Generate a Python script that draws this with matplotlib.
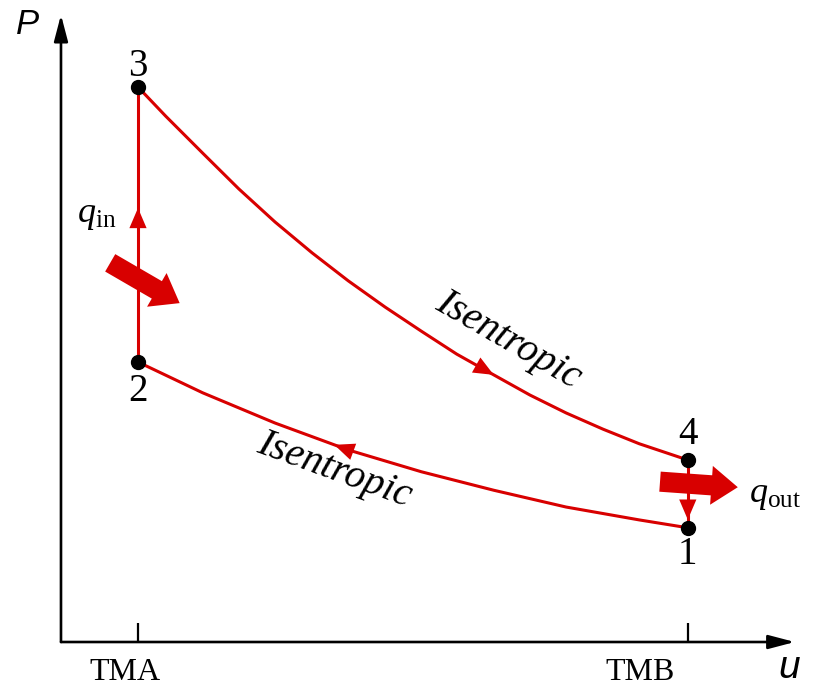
"""Otto cycle on a P-u diagram (schematic)."""

import matplotlib.pyplot as plt
from matplotlib import transforms

plt.rcParams["font.family"] = "Liberation Serif"
plt.rcParams["mathtext.fontset"] = "custom"
plt.rcParams["mathtext.rm"] = "Liberation Serif"
plt.rcParams["mathtext.it"] = "Liberation Serif:italic"

RED = "#d80000"

# specific volume at the dead centres (arbitrary units)
V_TMA = 1.0
V_TMB = 8.14
TICK_V = [V_TMA, V_TMB]
TICK_LABELS = ["TMA", "TMB"]

# cycle states 1..4: volume and pressure
STATE_NAMES = ["1", "2", "3", "4"]
STATE_V = [8.14, 1.00, 1.00, 8.14]
STATE_P = [2.04, 5.00, 9.91, 3.25]

# isentropic expansion 3 -> 4
EXP_V = [1.00, 1.36, 1.84, 2.31, 2.78, 3.26, 3.73, 4.21,
         4.68, 5.14, 5.62, 6.09, 6.56, 7.04, 7.51, 8.14]
EXP_P = [9.91, 9.39, 8.73, 8.09, 7.50, 6.95, 6.45, 5.98,
         5.55, 5.14, 4.77, 4.41, 4.09, 3.80, 3.54, 3.25]

# isentropic compression 1 -> 2 (listed from state 2 to state 1)
CMP_V = [1.00, 1.84, 2.78, 3.73, 4.68, 5.62, 6.56, 7.51, 8.14]
CMP_P = [5.00, 4.45, 3.91, 3.43, 3.04, 2.71, 2.41, 2.18, 2.04]


def flow_arrow(ax, start, end, frac):
    """Small filled arrowhead on a process line, pointing start -> end."""
    tip = (start[0] + frac * (end[0] - start[0]), start[1] + frac * (end[1] - start[1]))
    back = (start[0] + (frac - 0.03) * (end[0] - start[0]),
            start[1] + (frac - 0.03) * (end[1] - start[1]))
    ax.annotate("", xy=tip, xytext=back,
                arrowprops=dict(arrowstyle="-|>,head_length=1.45,head_width=0.62",
                                mutation_scale=10, color=RED, lw=0,
                                shrinkA=0, shrinkB=0))


def heat_arrow(ax, fig, anchor, tip_off, tail_off):
    tr = transforms.offset_copy(ax.transData, fig=fig, x=tip_off[0], y=tip_off[1],
                                units="points")
    ax.annotate("", xy=anchor, xycoords=tr, xytext=tail_off, textcoords="offset points",
                arrowprops=dict(arrowstyle="simple,head_length=1.9,head_width=2.8,tail_width=1.45",
                                mutation_scale=10, color=RED, lw=0,
                                shrinkA=0, shrinkB=0))


def main() -> None:
    fig = plt.figure(figsize=(8.13, 6.9), dpi=100)
    ax = fig.add_axes([0, 0, 1, 1])
    ax.set_xlim(-0.792, 9.766)
    ax.set_ylim(-0.857, 11.464)

    # axes with arrows
    for s in ax.spines.values():
        s.set_visible(False)
    ax.spines["bottom"].set_position(("data", 0))
    ax.spines["left"].set_position(("data", 0))
    axis_style = dict(arrowstyle="-|>,head_length=1.6,head_width=0.42",
                      mutation_scale=10, color="black", lw=1.9,
                      shrinkA=0, shrinkB=0)
    ax.annotate("", xy=(9.53, 0), xytext=(0, 0), arrowprops=axis_style)
    ax.annotate("", xy=(0, 11.2), xytext=(0, 0), arrowprops=axis_style)
    ax.set_xticks(TICK_V)
    ax.set_xticklabels([])
    ax.set_yticks([])
    ax.tick_params(axis="x", direction="in", length=14, width=1.6, color="black")
    for v, lab, dx in zip(TICK_V, TICK_LABELS, [-9.5, -34.5]):
        ax.annotate(lab, xy=(v, 0), xytext=(dx, -22), textcoords="offset points",
                    ha="center", va="center", fontsize=23)
    fig.text(27 / 813, 1 - 25 / 690, "P", fontsize=25, style="italic",
             family="Liberation Sans", ha="center", va="center")
    fig.text(789 / 813, 1 - 668 / 690, "u", fontsize=28, style="italic",
             family="Liberation Sans", ha="center", va="center")

    # process lines
    line = dict(color=RED, lw=2.2, solid_capstyle="round", solid_joinstyle="round")
    ax.plot(EXP_V, EXP_P, **line)
    ax.plot(CMP_V, CMP_P, **line)
    ax.plot([STATE_V[1], STATE_V[2]], [STATE_P[1], STATE_P[2]], **line)
    ax.plot([STATE_V[3], STATE_V[0]], [STATE_P[3], STATE_P[0]], **line)

    # direction arrows
    flow_arrow(ax, (STATE_V[1], STATE_P[1]), (STATE_V[2], STATE_P[2]), 0.56)
    flow_arrow(ax, (STATE_V[3], STATE_P[3]), (STATE_V[0], STATE_P[0]), 0.88)
    flow_arrow(ax, (EXP_V[9], EXP_P[9]), (EXP_V[10], EXP_P[10]), 1.0)
    flow_arrow(ax, (CMP_V[3], CMP_P[3]), (CMP_V[2], CMP_P[2]), 0.19)

    # states
    ax.plot(STATE_V, STATE_P, "o", color="black", ms=10, zorder=5)
    for name, v, p, dy in zip(STATE_NAMES, STATE_V, STATE_P, [-19, -21, 15, 18]):
        ax.annotate(name, xy=(v, p), xytext=(0, dy), textcoords="offset points",
                    ha="center", va="center", fontsize=28)

    # heat transfer
    p_in = STATE_P[1] + 0.30 * (STATE_P[2] - STATE_P[1])
    heat_arrow(ax, fig, (V_TMA, p_in), (30, -17), (-50, 29))
    ax.annotate(r"$q_{\rm in}$", xy=(V_TMA, p_in), xytext=(-30, 46),
                textcoords="offset points", ha="center", va="center", fontsize=26)
    p_out = STATE_P[3] + 0.34 * (STATE_P[0] - STATE_P[3])
    heat_arrow(ax, fig, (V_TMB, p_out), (36, -3), (-56, 4))
    ax.annotate(r"$q_{\rm out}$", xy=(V_TMB, p_out), xytext=(63, -9),
                textcoords="offset points", ha="center", va="center", fontsize=26)

    ax.text(5.805, 5.393, "Isentropic", rotation=-30, rotation_mode="anchor",
            ha="center", va="center", fontsize=29, style="italic")
    ax.text(3.545, 3.071, "Isentropic", rotation=-20, rotation_mode="anchor",
            ha="center", va="center", fontsize=29, style="italic")

    fig.savefig("out.png", dpi=100)


if __name__ == "__main__":
    main()
